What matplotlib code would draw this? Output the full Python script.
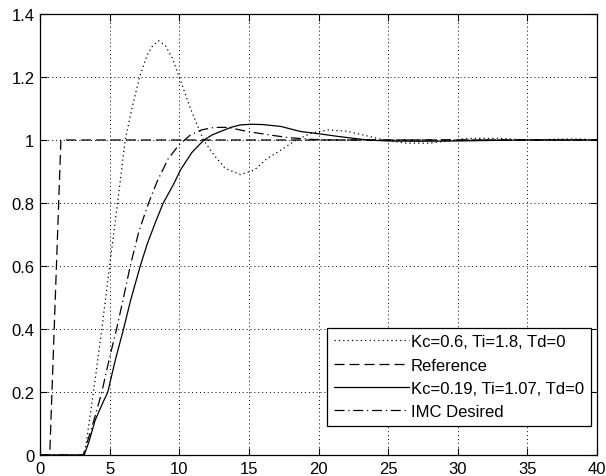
import matplotlib
matplotlib.use("Agg")
import matplotlib.pyplot as plt

plt.rcParams['font.family'] = ['Liberation Sans', 'DejaVu Sans']

# Series 1: Kc=0.6, Ti=1.8, Td=0 (dotted)
t_fast = [0, 3.2, 3.84, 4.44, 5.0, 5.76, 6.12, 6.6, 7.15, 7.7, 8.1, 8.52, 9.0, 9.5, 10.0, 10.8,
          11.74, 12.5, 13.3, 14.4, 15.4, 16.3, 17.3, 18.4, 19.5, 20.7, 22.0, 23.3, 24.7,
          26.3, 27.9, 29.3, 30.7, 33.0, 35.0, 37.4, 38.8, 40]
y_fast = [0, 0, 0.20, 0.40, 0.60, 0.868, 1.0, 1.10, 1.20, 1.27, 1.30, 1.315, 1.30, 1.26, 1.20, 1.10,
          1.0, 0.952, 0.91, 0.89, 0.905, 0.941, 0.968, 1.0, 1.022, 1.032, 1.028, 1.015, 1.0,
          0.99, 0.99, 0.997, 1.005, 1.005, 1.0, 1.003, 1.003, 1.0]

# Series 2: Reference (dashed)
t_ref = [0, 0.7, 1.5, 40]
y_ref = [0, 0, 1, 1]

# Series 3: Kc=0.19, Ti=1.07, Td=0 (solid)
t_slow = [0, 3.17, 3.5, 3.96, 4.4, 4.87, 5.4, 6.0, 6.5, 7.2, 7.7, 8.3, 8.85, 9.6, 10.09, 10.9,
          11.77, 12.4, 12.97, 13.7, 14.4, 15.2, 16.0, 17.3, 18.7, 20.0, 21.3, 22.4, 23.5,
          25.0, 27.0, 30.0, 33.0, 35.0, 40]
y_slow = [0, 0, 0.04, 0.11, 0.155, 0.20, 0.30, 0.40, 0.49, 0.60, 0.67, 0.74, 0.80, 0.86, 0.905, 0.96,
          1.0, 1.017, 1.027, 1.04, 1.048, 1.05, 1.049, 1.043, 1.027, 1.02, 1.012, 1.006, 1.0,
          0.997, 0.996, 0.997, 0.999, 1.0, 1.0]

# Series 4: IMC Desired (dash-dot)
t_imc = [0, 3.1, 3.6, 4.0, 4.44, 5.0, 5.5, 6.0, 6.48, 7.1, 7.8, 8.4, 9.2, 9.97, 10.8, 11.6,
         12.5, 13.5, 14.9, 16.8, 18.0, 19.5, 21.0, 40]
y_imc = [0, 0, 0.07, 0.13, 0.20, 0.31, 0.40, 0.50, 0.60, 0.71, 0.80, 0.867, 0.94, 0.984, 1.016, 1.032,
         1.04, 1.04, 1.027, 1.014, 1.007, 1.002, 1.0, 1.0]

labels = ['Kc=0.6, Ti=1.8, Td=0', 'Reference', 'Kc=0.19, Ti=1.07, Td=0', 'IMC Desired']
x_ticks = [0, 5, 10, 15, 20, 25, 30, 35, 40]
y_ticks = [0, 0.2, 0.4, 0.6, 0.8, 1, 1.2, 1.4]

fig = plt.figure(figsize=(6.06, 4.77), dpi=100)
ax = fig.add_axes([40/606, 21/477, 557/606, 441/477])

lw = 0.9
ax.plot(t_fast, y_fast, color='black', lw=lw, linestyle=(0, (1, 2.5)), label=labels[0])
ax.plot(t_ref, y_ref, color='black', lw=lw, linestyle=(0, (8, 4)), label=labels[1])
ax.plot(t_slow, y_slow, color='black', lw=lw, linestyle='-', label=labels[2])
ax.plot(t_imc, y_imc, color='black', lw=lw, linestyle=(0, (8, 3, 1, 3)), label=labels[3])

ax.set_xlim(0, 40)
ax.set_ylim(0, 1.4)
ax.set_xticks(x_ticks)
ax.set_xticklabels([str(v) for v in x_ticks])
ax.set_yticks(y_ticks)
ax.set_yticklabels(['0', '0.2', '0.4', '0.6', '0.8', '1', '1.2', '1.4'])
ax.tick_params(direction='in', top=True, right=True, length=5, width=0.8,
               labelsize=12, colors='black', pad=4)
ax.grid(True, color='black', linestyle=(0, (1, 3)), linewidth=0.7)
for s in ax.spines.values():
    s.set_linewidth(0.9)
    s.set_color('black')

leg = ax.legend(loc='lower right', bbox_to_anchor=(0.989, 0.066), borderaxespad=0,
                fontsize=12, handlelength=4.5, handletextpad=0.15, labelspacing=0.5,
                borderpad=0.4, fancybox=False, framealpha=1, edgecolor='black')
leg.get_frame().set_linewidth(0.9)

fig.savefig('out.png', dpi=100)
